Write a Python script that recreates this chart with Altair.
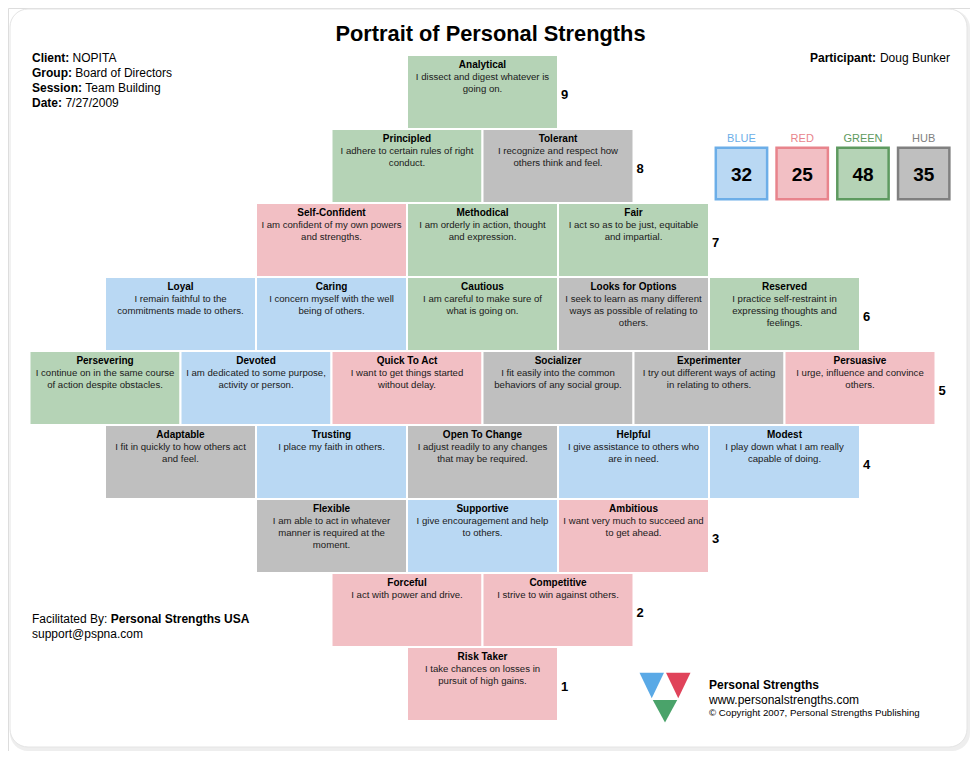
import altair as alt
import pandas as pd

FONT = "Liberation Sans"

# ---------------- data ----------------
ROWS = [9, 8, 7, 6, 5, 4, 3, 2, 1]
NAMES = [
    ["Analytical"],
    ["Principled", "Tolerant"],
    ["Self-Confident", "Methodical", "Fair"],
    ["Loyal", "Caring", "Cautious", "Looks for Options", "Reserved"],
    ["Persevering", "Devoted", "Quick To Act", "Socializer", "Experimenter", "Persuasive"],
    ["Adaptable", "Trusting", "Open To Change", "Helpful", "Modest"],
    ["Flexible", "Supportive", "Ambitious"],
    ["Forceful", "Competitive"],
    ["Risk Taker"],
]
GROUPS_BY_ROW = [
    ["GREEN"],
    ["GREEN", "HUB"],
    ["RED", "GREEN", "GREEN"],
    ["BLUE", "BLUE", "GREEN", "HUB", "GREEN"],
    ["GREEN", "BLUE", "RED", "HUB", "HUB", "RED"],
    ["HUB", "BLUE", "HUB", "BLUE", "BLUE"],
    ["HUB", "BLUE", "RED"],
    ["RED", "RED"],
    ["RED"],
]
DESCS = [
    ["I dissect and digest whatever is\ngoing on."],
    ["I adhere to certain rules of right\nconduct.",
     "I recognize and respect how\nothers think and feel."],
    ["I am confident of my own powers\nand strengths.",
     "I am orderly in action, thought\nand expression.",
     "I act so as to be just, equitable\nand impartial."],
    ["I remain faithful to the\ncommitments made to others.",
     "I concern myself with the well\nbeing of others.",
     "I am careful to make sure of\nwhat is going on.",
     "I seek to learn as many different\nways as possible of relating to\nothers.",
     "I practice self-restraint in\nexpressing thoughts and\nfeelings."],
    ["I continue on in the same course\nof action despite obstacles.",
     "I am dedicated to some purpose,\nactivity or person.",
     "I want to get things started\nwithout delay.",
     "I fit easily into the common\nbehaviors of any social group.",
     "I try out different ways of acting\nin relating to others.",
     "I urge, influence and convince\nothers."],
    ["I fit in quickly to how others act\nand feel.",
     "I place my faith in others.",
     "I adjust readily to any changes\nthat may be required.",
     "I give assistance to others who\nare in need.",
     "I play down what I am really\ncapable of doing."],
    ["I am able to act in whatever\nmanner is required at the\nmoment.",
     "I give encouragement and help\nto others.",
     "I want very much to succeed and\nto get ahead."],
    ["I act with power and drive.",
     "I strive to win against others."],
    ["I take chances on losses in\npursuit of high gains."],
]

SCORE_GROUPS = ["BLUE", "RED", "GREEN", "HUB"]
SCORE_VALUES = [32, 25, 48, 35]

INFO_LABELS = ["Client:", "Group:", "Session:", "Date:"]
INFO_VALUES = ["NOPITA", "Board of Directors", "Team Building", "7/27/2009"]
PARTICIPANT = "Doug Bunker"
TITLE = "Portrait of Personal Strengths"

# ---------------- styles ----------------
FILLS = ["#b9d8f3", "#f2bfc4", "#b5d3b6", "#bfbfbf"]
EDGES = ["#6caee8", "#e8848c", "#5e9a60", "#808080"]

# ---------------- tables ----------------
cells = []
numbers = []
for r, names, groups, descs in zip(ROWS, NAMES, GROUPS_BY_ROW, DESCS):
    n = len(names)
    cols = [i - (n - 1) / 2 for i in range(n)]
    for c, nm, g, d in zip(cols, names, groups, descs):
        cells.append(dict(name=nm, group=g, desc=d, row=r, col=c,
                          x0=c - 0.5, x1=c + 0.5, y0=r - 0.5, y1=r + 0.5, top=r + 0.5))
    numbers.append(dict(row=r, xr=max(cols) + 0.5, label=str(r)))
cells = pd.DataFrame(cells)
numbers = pd.DataFrame(numbers)

BOX_C0, BOX_STEP, BOX_HALF = 1.715, 0.4023, 0.170
scores = pd.DataFrame({"group": SCORE_GROUPS, "value": SCORE_VALUES})
scores["xc"] = [BOX_C0 + i * BOX_STEP for i in range(len(scores))]
scores["xa"] = scores["xc"] - BOX_HALF
scores["xb"] = scores["xc"] + BOX_HALF
scores["ya"] = 7.552
scores["yb"] = 8.245
scores["ylab"] = 8.365
scores["yval"] = 7.885
scores["value_t"] = scores["value"].astype(str)

W, H = 962, 743
XS = alt.Scale(domain=[-3.1424, 3.2285], nice=False, zero=False)
YS = alt.Scale(domain=[0.0946, 10.135], nice=False, zero=False)
X = lambda f: alt.X(f, scale=XS, axis=None)
Y = lambda f: alt.Y(f, scale=YS, axis=None)
fill_color = alt.Color("group:N", scale=alt.Scale(domain=SCORE_GROUPS, range=FILLS), legend=None)
edge_color = alt.Stroke("group:N", scale=alt.Scale(domain=SCORE_GROUPS, range=EDGES), legend=None)
label_fill = alt.Fill("group:N", scale=alt.Scale(domain=SCORE_GROUPS, range=EDGES), legend=None)

one = alt.Data(values=[{"k": 1}])


def txt(text, x, y, size=12, bold=False, align="left", color="#000000", baseline="middle"):
    return alt.Chart(one).mark_text(
        text=text, font=FONT, fontSize=size, fontWeight="bold" if bold else "normal",
        align=align, baseline=baseline, color=color
    ).encode(x=alt.value(x), y=alt.value(y))


# background card
shadow = alt.Chart(one).mark_rect(cornerRadius=18, fill="#eeeeee").encode(
    x=alt.value(2), x2=alt.value(962), y=alt.value(2), y2=alt.value(743))
card = alt.Chart(one).mark_rect(cornerRadius=18, fill="white", stroke="#e4e4e4", strokeWidth=1).encode(
    x=alt.value(2), x2=alt.value(959), y=alt.value(1), y2=alt.value(739))

base = alt.Chart(cells)
rects = base.mark_rect(stroke="white", strokeWidth=2).encode(
    x=X("x0:Q"), x2="x1:Q", y=Y("y0:Q"), y2="y1:Q", color=fill_color)
names_t = base.mark_text(font=FONT, fontSize=10, fontWeight="bold", baseline="middle",
                         dy=10, color="#000000").encode(x=X("col:Q"), y=Y("top:Q"), text="name:N")
descs_t = base.mark_text(font=FONT, fontSize=9.6, baseline="top", lineBreak="\n", lineHeight=12,
                         dy=17, color="#1a1a1a").encode(x=X("col:Q"), y=Y("top:Q"), text="desc:N")
nums_t = alt.Chart(numbers).mark_text(font=FONT, fontSize=13, fontWeight="bold", align="left",
                                      baseline="middle", dx=3, dy=3, color="#000000").encode(
    x=X("xr:Q"), y=Y("row:Q"), text="label:N")

sb = alt.Chart(scores)
score_boxes = sb.mark_rect(strokeWidth=2.5).encode(
    x=X("xa:Q"), x2="xb:Q", y=Y("ya:Q"), y2="yb:Q", color=fill_color, stroke=edge_color)
score_labels = sb.mark_text(font=FONT, fontSize=11, baseline="middle").encode(
    x=X("xc:Q"), y=Y("ylab:Q"), text="group:N", fill=label_fill)
score_vals = sb.mark_text(font=FONT, fontSize=19, fontWeight="bold", baseline="middle", color="#000000").encode(
    x=X("xc:Q"), y=Y("yval:Q"), text="value_t:N")

# header texts
LABEL_W = [40.6, 43.2, 53.3, 33.4]
header = [txt(TITLE, 482.5, 26, size=21.8, bold=True, align="center")]
for i, (lab, val) in enumerate(zip(INFO_LABELS, INFO_VALUES)):
    yy = 50 + 15 * i
    header.append(txt(lab, 24, yy, bold=True))
    header.append(txt(val, 24 + LABEL_W[i], yy))
header.append(txt(PARTICIPANT, 942, 50, align="right"))
header.append(txt("Participant:", 868, 50, bold=True, align="right"))
header.append(txt("Facilitated By:", 24, 611))
header.append(txt("Personal Strengths USA", 102.7, 611, bold=True))
header.append(txt("support@pspna.com", 24, 626))
header.append(txt("Personal Strengths", 701, 677, bold=True))
header.append(txt("www.personalstrengths.com", 701, 692))
header.append(txt("\u00a9 Copyright 2007, Personal Strengths Publishing", 701, 705, size=9.7))

# logo
LOGO_PARTS = [
    ("M-1,-0.95L-0.04,-0.95L-0.52,0.05Z", "#5aa9e6"),
    ("M0.04,-0.95L1,-0.95L0.52,0.05Z", "#e0435a"),
    ("M-0.48,0.12L0.48,0.12L0,1Z", "#4aa36a"),
    ("M-0.16,-0.62L0.16,-0.62L0,-0.3Z", "#ffffff"),
]
logo = [alt.Chart(one).mark_point(shape=p, filled=True, fill=c, stroke=None, opacity=1, size=2600).encode(
    x=alt.value(657), y=alt.value(689)) for p, c in LOGO_PARTS]

chart = alt.layer(
    shadow, card, rects, names_t, descs_t, nums_t, score_boxes, score_labels, score_vals,
    *header, *logo
).properties(
    width=W, height=H, padding=0, autosize=alt.AutoSizeParams(type="none")
).configure_view(stroke=None).configure(background="white")

chart.save("out.html", embed_options={"renderer": "svg", "actions": False})
